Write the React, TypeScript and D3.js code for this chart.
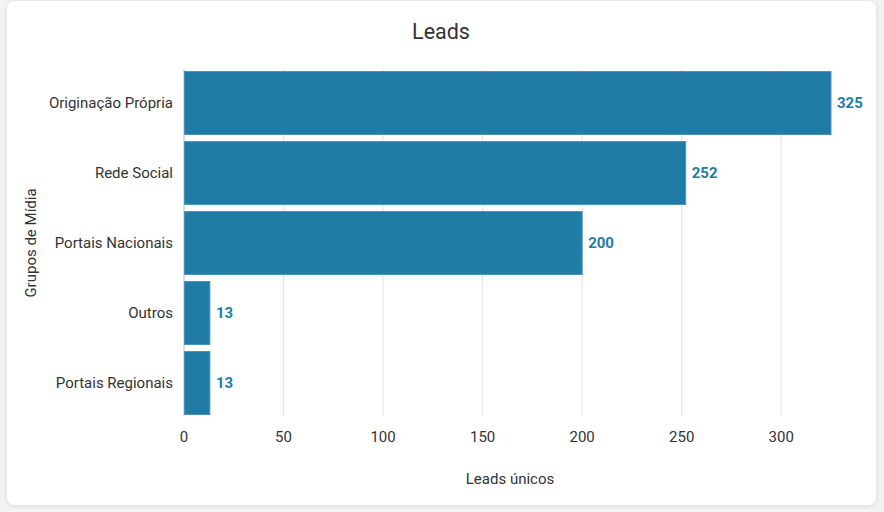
import React from "react";
import * as d3 from "d3";

const categories = ["Originação Própria", "Rede Social", "Portais Nacionais", "Outros", "Portais Regionais"];
const values = [325, 252, 200, 13, 13];
const xTicks = [0, 50, 100, 150, 200, 250, 300];

const W = 884;
const H = 512;
const M = { left: 184, right: 831, top: 68, bottom: 418 };
const FONT = "Roboto, 'Noto Sans', sans-serif";

export default function App() {
  const x = d3.scaleLinear().domain([0, 325]).range([M.left, M.right]);
  const y = d3.scaleBand<string>().domain(categories).range([M.top, M.bottom]).paddingInner(0.1).paddingOuter(0.05);

  return (
    <svg width={W} height={H} style={{ position: "fixed", left: 0, top: 0, background: "#f3f3f3" }}>
      <defs>
        <filter id="sh" x="-5%" y="-5%" width="110%" height="110%">
          <feDropShadow dx="0" dy="1" stdDeviation="2.5" floodColor="#000" floodOpacity="0.12" />
        </filter>
      </defs>
      <rect x={7} y={1} width={869} height={504} rx={8} fill="#fff" filter="url(#sh)" />
      <text x={441} y={39} textAnchor="middle" fontFamily={FONT} fontSize={21.5} fill="#333">Leads</text>
      {xTicks.map((t) => (
        <g key={t}>
          {t > 0 && <line x1={x(t)} x2={x(t)} y1={69} y2={416} stroke="#e3e3e3" strokeWidth={1} />}
          <text x={x(t)} y={442} textAnchor="middle" fontFamily={FONT} fontSize={15} fill="#333">{t}</text>
        </g>
      ))}
      <line x1={M.left} x2={M.left} y1={69} y2={416} stroke="#c9d3e6" strokeWidth={1.5} />
      {categories.map((c, i) => {
        const yy = y(c)!;
        const bw = y.bandwidth();
        return (
          <g key={c}>
            <rect x={x(0) + 0.5} y={yy} width={x(values[i]) - x(0) - 0.5} height={bw} fill="#217ca5" stroke="#4a95bd" strokeWidth={1} />
            <text x={x(values[i]) + 6} y={yy + bw / 2 + 5} fontFamily={FONT} fontSize={15} fontWeight={700} fill="#217ca5">{values[i]}</text>
            <text x={173} y={yy + bw / 2 + 5} textAnchor="end" fontFamily={FONT} fontSize={15} fill="#333">{c}</text>
          </g>
        );
      })}
      <text transform={`translate(36,${243}) rotate(-90)`} textAnchor="middle" fontFamily={FONT} fontSize={15} fill="#333">Grupos de Mídia</text>
      <text x={510} y={484} textAnchor="middle" fontFamily={FONT} fontSize={15} fill="#333">Leads únicos</text>
    </svg>
  );
}
